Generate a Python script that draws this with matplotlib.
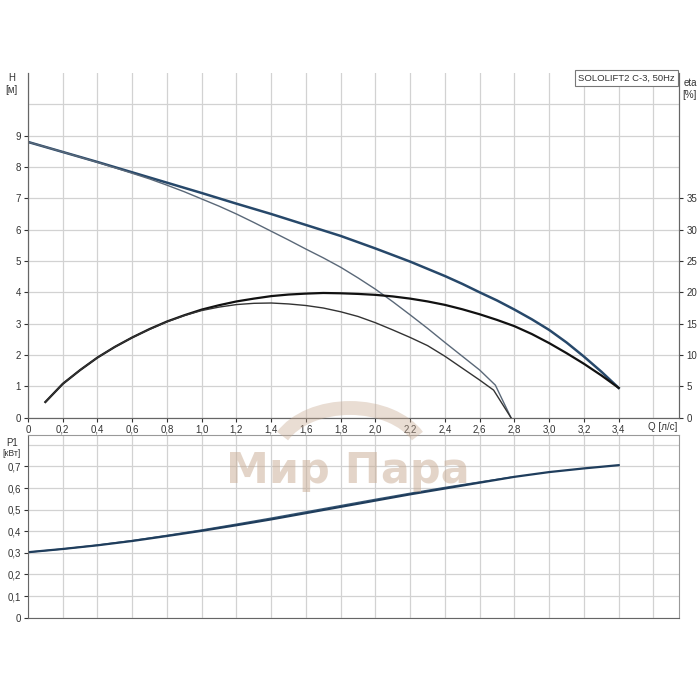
import numpy as np
import matplotlib.pyplot as plt
from matplotlib.patches import Arc

plt.rcParams['font.family'] = ['Liberation Sans', 'DejaVu Sans']

# head H [m] vs flow Q [l/s]
q_h = [0, 0.2, 0.4, 0.6, 0.8, 1.0, 1.2, 1.4, 1.6, 1.8, 2.0, 2.2, 2.4, 2.5, 2.6, 2.7, 2.8, 2.9, 3.0, 3.1, 3.2, 3.3, 3.4]
h_main = [8.8, 8.48, 8.16, 7.83, 7.5, 7.17, 6.83, 6.5, 6.15, 5.8, 5.4, 4.98, 4.52, 4.27, 4.0, 3.74, 3.45, 3.14, 2.8, 2.4, 1.95, 1.47, 0.95]
q_h2 = [0, 0.2, 0.4, 0.6, 0.7, 0.8, 0.9, 1.0, 1.1, 1.2, 1.3, 1.4, 1.5, 1.6, 1.7, 1.8, 1.9, 2.0,
        2.1, 2.2, 2.3, 2.4, 2.5, 2.6, 2.69, 2.78]
h_second = [8.8, 8.48, 8.15, 7.8, 7.62, 7.42, 7.21, 6.98, 6.75, 6.5, 6.23, 5.95, 5.67, 5.38, 5.1, 4.8, 4.46, 4.1,
            3.7, 3.28, 2.85, 2.4, 1.96, 1.52, 1.04, 0]

# efficiency eta [%]
q_eta = [0.1, 0.2, 0.3, 0.4, 0.5, 0.6, 0.7, 0.8, 0.9, 1.0, 1.1, 1.2, 1.3, 1.4, 1.5, 1.6, 1.7, 1.8,
         1.9, 2.0, 2.1, 2.2, 2.3, 2.4, 2.5, 2.6, 2.7, 2.8, 2.9, 3.0, 3.1, 3.2, 3.3, 3.4]
eta_main = [2.5, 5.4, 7.6, 9.6, 11.3, 12.8, 14.15, 15.35, 16.35, 17.25, 17.95, 18.55, 19.0, 19.4, 19.65, 19.8, 19.9, 19.85,
            19.75, 19.6, 19.35, 19.0, 18.55, 18.0, 17.3, 16.5, 15.6, 14.6, 13.35, 11.9, 10.3, 8.6, 6.75, 4.75]
q_eta2 = [0.1, 0.2, 0.3, 0.4, 0.5, 0.6, 0.7, 0.8, 0.9, 1.0, 1.1, 1.2, 1.3, 1.4, 1.5, 1.6, 1.7, 1.8,
          1.9, 2.0, 2.1, 2.2, 2.3, 2.4, 2.5, 2.6, 2.68, 2.78]
eta_second = [2.5, 5.4, 7.6, 9.6, 11.3, 12.8, 14.1, 15.3, 16.3, 17.1, 17.65, 18.05, 18.25, 18.3, 18.15, 17.9, 17.5, 16.9,
              16.15, 15.15, 14.0, 12.8, 11.5, 9.8, 7.9, 6.0, 4.4, 0]

# power P1 [kW]
q_p = [0, 0.2, 0.4, 0.6, 0.8, 1.0, 1.2, 1.4, 1.6, 1.8, 2.0, 2.2, 2.4, 2.6, 2.8, 3.0, 3.2, 3.4]
p1_main = [0.303, 0.318, 0.335, 0.355, 0.378, 0.402, 0.428, 0.455, 0.484, 0.513, 0.542, 0.571, 0.598, 0.625, 0.652, 0.674, 0.691, 0.706]
q_p2 = [0, 0.2, 0.4, 0.6, 0.8, 1.0, 1.2, 1.4, 1.6, 1.8, 2.0, 2.2, 2.4, 2.6, 2.78]
p1_second = [0.303, 0.318, 0.336, 0.357, 0.381, 0.406, 0.433, 0.461, 0.490, 0.519, 0.548, 0.576, 0.603, 0.628, 0.650]

q_ticks = [0, 0.2, 0.4, 0.6, 0.8, 1.0, 1.2, 1.4, 1.6, 1.8, 2.0, 2.2, 2.4, 2.6, 2.8, 3.0, 3.2, 3.4]
q_labels = ['0', '0,2', '0,4', '0,6', '0,8', '1,0', '1,2', '1,4', '1,6', '1,8', '2,0',
            '2,2', '2,4', '2,6', '2,8', '3,0', '3,2', '3,4']
q_extra_grid = [3.6]
h_ticks = [0, 1, 2, 3, 4, 5, 6, 7, 8, 9]
h_extra_grid = [10]
eta_ticks = [0, 5, 10, 15, 20, 25, 30, 35]
p_ticks = [0, 0.1, 0.2, 0.3, 0.4, 0.5, 0.6, 0.7]
p_labels = ['0', '0,1', '0,2', '0,3', '0,4', '0,5', '0,6', '0,7']
p_extra_grid = [0.8]

grid_c = '#d2d2d2'
spine_c = '#666666'
txt_c = '#333333'
fs = 7

fig = plt.figure(figsize=(7, 7), dpi=100)
ax = fig.add_axes([0.04, 0.4033, 0.9307, 0.4924])
ax2 = ax.twinx()
axp = fig.add_axes([0.04, 0.1176, 0.9307, 0.2614])

# upper chart
ax.set_xlim(0, 3.75)
ax.set_ylim(0, 11)
ax2.set_ylim(0, 55)
ax.set_xticks(q_ticks)
ax.set_xticklabels(q_labels)
ax.set_xticks(q_extra_grid, minor=True)
ax.set_yticks(h_ticks)
ax.set_yticks(h_extra_grid, minor=True)
ax2.set_yticks(eta_ticks)
ax.grid(which='both', color=grid_c, lw=0.9)
ax.set_axisbelow(True)

ax.plot(q_h, h_main, color='#27486a', lw=1.8)
ax.plot(q_h2, h_second, color='#5a6878', lw=1.0)
ax2.plot(q_eta, eta_main, color='#111111', lw=1.6)
ax2.plot(q_eta2, eta_second, color='#333333', lw=1.0)

for a in (ax, ax2):
    a.spines['top'].set_visible(False)
    for s in ('left', 'right', 'bottom'):
        a.spines[s].set_color(spine_c)
    a.tick_params(labelsize=fs, colors=txt_c, length=3, width=0.8, pad=2)
ax.tick_params(which='minor', length=0)

ax.text(3.655, -0.026, 'Q [л/с]', transform=ax.get_xaxis_transform(),
        ha='center', va='center', fontsize=fs, color=txt_c)
ax.text(-0.025, 0.985, 'H', transform=ax.transAxes, ha='center', va='center', fontsize=fs, color=txt_c)
ax.text(-0.025, 0.95, '[м]', transform=ax.transAxes, ha='center', va='center', fontsize=fs, color=txt_c)
ax2.text(1.016, 0.97, 'eta', transform=ax.transAxes, ha='center', va='center', fontsize=fs, color=txt_c)
ax2.text(1.016, 0.935, '[%]', transform=ax.transAxes, ha='center', va='center', fontsize=fs, color=txt_c)
ax2.text(0.993, 0.999, 'SOLOLIFT2 C-3, 50Hz', transform=ax.transAxes, ha='right', va='top',
         fontsize=6.8, color=txt_c,
         bbox=dict(boxstyle='square,pad=0.35', fc='white', ec='#777777', lw=0.8))

# lower chart
axp.set_xlim(0, 3.75)
axp.set_ylim(0, 0.847)
axp.set_xticks(q_ticks)
axp.set_xticks(q_extra_grid, minor=True)
axp.set_xticklabels([])
axp.set_yticks(p_ticks)
axp.set_yticklabels(p_labels)
axp.set_yticks(p_extra_grid, minor=True)
axp.grid(which='both', color=grid_c, lw=0.9)
axp.set_axisbelow(True)
axp.plot(q_p2, p1_second, color='#3a5a78', lw=1.0)
axp.plot(q_p, p1_main, color='#1f3d5c', lw=1.6)
for s in ('top', 'right'):
    axp.spines[s].set_color('#999999')
for s in ('left', 'bottom'):
    axp.spines[s].set_color(spine_c)
axp.tick_params(labelsize=fs, colors=txt_c, length=3, width=0.8, pad=2)
axp.tick_params(axis='x', which='both', length=0)
axp.tick_params(which='minor', length=0)
axp.text(-0.025, 0.955, 'P1', transform=axp.transAxes, ha='center', va='center', fontsize=fs, color=txt_c)
axp.text(-0.025, 0.895, '[кВт]', transform=axp.transAxes, ha='center', va='center', fontsize=6.2, color=txt_c)

# watermark
wm = '#c8ab93'
fig.add_artist(Arc((350 / 700, 1 - 458 / 700), 150 / 700, 100 / 700, theta1=18, theta2=162,
                   transform=fig.transFigure, color=wm, lw=10, alpha=0.4))
fig.text(348 / 700, 1 - 471 / 700, 'Мир Пара', fontsize=31, fontweight='bold',
         color=wm, alpha=0.5, ha='center', va='center', family='DejaVu Sans')

fig.savefig('out.png', dpi=100)
